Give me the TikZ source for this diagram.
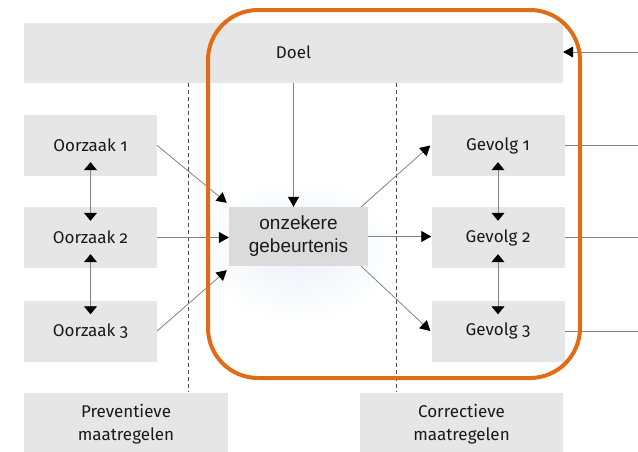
\documentclass[tikz,border=0pt]{standalone}
\usepackage{fontspec}
\setmainfont[Numbers=OldStyle]{Fira Sans}
\newfontfamily\arialfont{Liberation Sans}
\usetikzlibrary{arrows.meta}
\definecolor{boxgray}{RGB}{230,230,230}
\definecolor{midgray}{RGB}{219,219,219}
\definecolor{linegray}{RGB}{130,130,130}
\definecolor{frameorange}{RGB}{226,108,22}
\definecolor{glowblue}{RGB}{236,240,249}

\begin{document}
\begin{tikzpicture}[x=1pt, y=-1pt,
	box/.style={fill=boxgray, minimum width=133pt, minimum height=61pt, inner sep=0pt,
		font=\fontsize{17}{23}\selectfont, text=black!90, align=center},
	link/.style={draw=linegray, line width=.8pt, -{Triangle[black, length=10pt, width=11pt]}},
	both/.style={draw=linegray, line width=.8pt,
		{Triangle[black, length=8pt, width=13pt]}-{Triangle[black, length=8pt, width=13pt]},
		shorten <=-14pt, shorten >=-14pt},
	plain/.style={draw=linegray, line width=.8pt}]
\useasboundingbox (0,0) rectangle (638,451);
% soft glow behind the event
\shade[inner color=glowblue, outer color=white] (298,250) ellipse (100 and 72);
% boxes
\node[box, minimum width=539pt, minimum height=60pt] (doel) at (293.5,52.5) {Doel};
\foreach \i/\y in {1/145.5, 2/237.5, 3/331} {
	\node[box] (oz\i) at (90.5,\y) {Oorzaak \i};
	\node[box] (gv\i) at (498,\y) {Gevolg \i};
}
\node[box, fill=midgray, minimum width=139pt, minimum height=59pt,
	font=\arialfont\fontsize{19}{23}\selectfont] (onz) at (298.5,236.5) {onzekere\\gebeurtenis};
\node[box, minimum width=204pt, minimum height=62pt] (prev) at (126,424) {Preventieve\\maatregelen};
\node[box, minimum width=203pt, minimum height=62pt] (corr) at (461.5,424) {Correctieve\\maatregelen};
% dividers
\foreach \x in {188,396}
	\draw[black!70, line width=.8pt, dash pattern=on 4pt off 3pt] (\x,83) -- (\x,392);
% causes and consequences
\draw[link] (oz1.east) -- ([shift={(-2,-4)}]onz.north west);
\draw[link] (oz2.east) -- (oz2.east -| onz.west);
\draw[link] (oz3.east) -- ([shift={(-2,4)}]onz.south west);
\draw[link] (doel.south) -- (doel.south |- onz.north);
\draw[link] ([xshift=-7]onz.north east) -- ([xshift=-1]gv1.west);
\draw[link] (onz.east) -- (onz.east -| gv2.west);
\draw[link] ([xshift=-7]onz.south east) -- ([xshift=-1]gv3.west);
\foreach \i/\j in {1/2, 2/3} {
	\draw[both] (oz\i.south) -- (oz\j.north);
	\draw[both] (gv\i.south) -- (gv\j.north);
}
% feedback on the right
\coordinate (rd) at (638,52);
\draw[link] (rd) -- (rd -| doel.east);
\foreach \i in {1,2,3}
	\draw[plain] (gv\i.east) -- (gv\i.east -| rd);
% frame
\draw[frameorange, line width=4pt, rounded corners=50pt] (208,10) rectangle (580,378);
\end{tikzpicture}
\end{document}
